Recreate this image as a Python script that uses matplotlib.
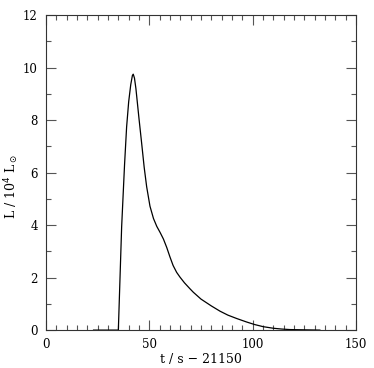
import numpy as np
import matplotlib.pyplot as plt
from matplotlib.ticker import MultipleLocator

# light curve
t = [23, 35.0, 36.6, 38.0, 39.0, 40.0, 41.0, 41.8, 42.2, 42.8, 43.5, 45.0, 46.3, 47.5,
     48.7, 50.3, 52.0, 53.6, 55.2, 56.8, 58.4, 60.0, 61.5, 63.2, 64.8, 67.0, 69.7,
     71.3, 75.0, 80.0, 84.2, 88.0, 92.3, 97.0, 101.0, 105.1, 110.0, 114.0, 118.0, 132.5]
L = [0.0, 0.0, 3.94, 6.3, 7.74, 8.7, 9.35, 9.7, 9.75, 9.6, 9.2, 8.05, 7.1, 6.2,
     5.46, 4.72, 4.25, 3.95, 3.72, 3.47, 3.15, 2.78, 2.46, 2.2, 2.02, 1.8, 1.57,
     1.44, 1.18, 0.92, 0.72, 0.57, 0.44, 0.31, 0.21, 0.13, 0.07, 0.04, 0.02, 0.0]

plt.rcParams['font.family'] = ['DejaVu Serif']

fig = plt.figure(figsize=(3.74, 3.68), dpi=100)
ax = fig.add_axes([0.123, 0.103, 0.829, 0.856])
ax.plot(t, L, color='black', lw=0.9)

ax.set_xlim(0, 150)
ax.set_ylim(0, 12)
ax.xaxis.set_major_locator(MultipleLocator(50))
ax.xaxis.set_minor_locator(MultipleLocator(5))
ax.yaxis.set_major_locator(MultipleLocator(2))
ax.yaxis.set_minor_locator(MultipleLocator(1))
ax.tick_params(which='both', direction='in', top=True, right=True,
               color='#555555', width=0.8, labelsize=8.5)
ax.tick_params(which='major', length=7, pad=6)
ax.tick_params(which='minor', length=3.5)
for s in ax.spines.values():
    s.set_linewidth(0.8)
    s.set_color('#333333')

ax.set_xlabel('t / s \u2212 21150', fontsize=9, labelpad=1)
ax.set_ylabel(r'L / 10$^4$ L$_\odot$', fontsize=9)
ax.yaxis.set_label_coords(-0.08, 0.455)

fig.savefig('out.png', dpi=100)
